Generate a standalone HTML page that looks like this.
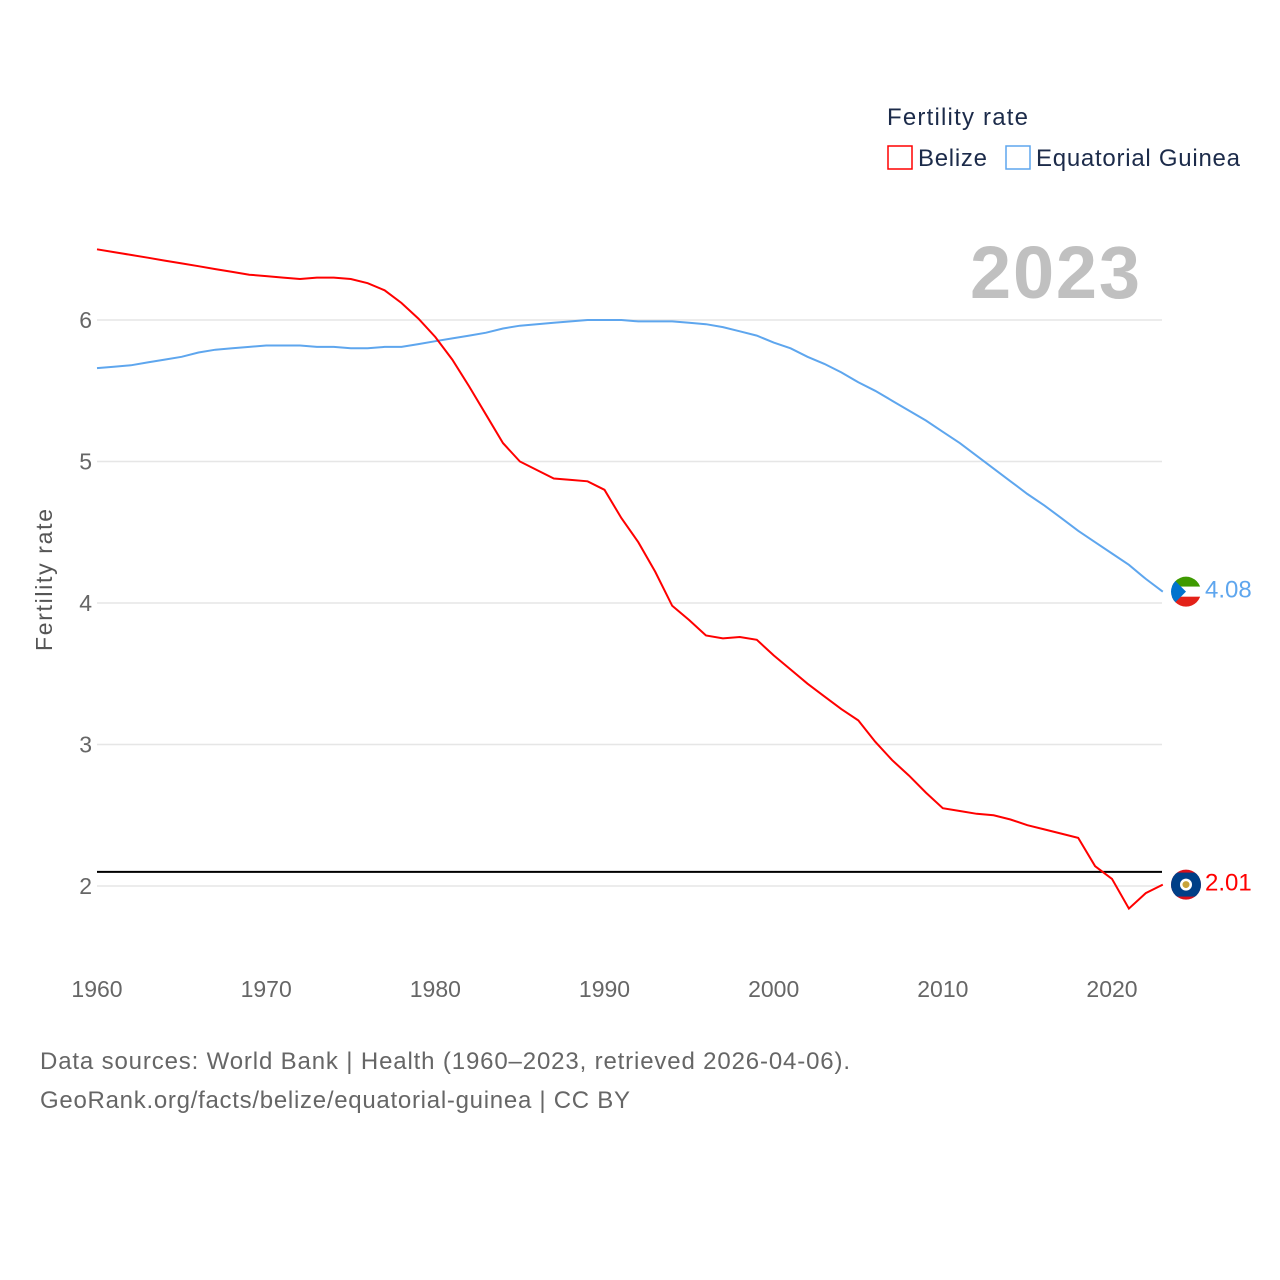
<!DOCTYPE html>
<html><head><meta charset="utf-8"><style>
body{margin:0;background:#fff;}
svg{display:block;font-family:"Liberation Sans",sans-serif;}
</style></head><body>
<svg id="chart" width="1280" height="1280" viewBox="0 0 1280 1280">
<g id="grid"></g>
<g id="yticks"></g>
<g id="xticks"></g>
<text x="52" y="580" transform="rotate(-90 52 580)" text-anchor="middle" font-size="23" fill="#555" textLength="142">Fertility rate</text>
<text x="970" y="298" font-size="74" font-weight="bold" fill="#c0c0c0" textLength="170">2023</text>
<g>
<text x="887" y="125" font-size="24" fill="#1c2b4a" textLength="141">Fertility rate</text>
<g><rect x="888" y="146" width="24" height="23" fill="none" stroke="#f00" stroke-width="1.5"/><text x="918" y="166" font-size="24" fill="#1c2b4a" textLength="69">Belize</text></g>
<g><rect x="1006" y="146" width="24" height="23" fill="none" stroke="#5ea6ee" stroke-width="1.5"/><text x="1036" y="166" font-size="24" fill="#1c2b4a" textLength="204">Equatorial Guinea</text></g>
</g>
<g id="series"></g>
<text x="40" y="1069" font-size="24" fill="#666" textLength="810">Data sources: World Bank | Health (1960–2023, retrieved 2026-04-06).</text>
<text x="40" y="1108" font-size="24" fill="#666" textLength="590">GeoRank.org/facts/belize/equatorial-guinea | CC BY</text>
</svg>
<script>
const years=[];for(let y=1960;y<=2023;y++)years.push(y);
const belize=[6.50,6.48,6.46,6.44,6.42,6.40,6.38,6.36,6.34,6.32,6.31,6.30,6.29,6.30,6.30,6.29,6.26,6.21,6.12,6.01,5.88,5.72,5.53,5.33,5.13,5.00,4.94,4.88,4.87,4.86,4.80,4.60,4.43,4.22,3.98,3.88,3.77,3.75,3.76,3.74,3.63,3.53,3.43,3.34,3.25,3.17,3.02,2.89,2.78,2.66,2.55,2.53,2.51,2.50,2.47,2.43,2.40,2.37,2.34,2.14,2.05,1.84,1.95,2.01];
const eqGuinea=[5.66,5.67,5.68,5.70,5.72,5.74,5.77,5.79,5.80,5.81,5.82,5.82,5.82,5.81,5.81,5.80,5.80,5.81,5.81,5.83,5.85,5.87,5.89,5.91,5.94,5.96,5.97,5.98,5.99,6.00,6.00,6.00,5.99,5.99,5.99,5.98,5.97,5.95,5.92,5.89,5.84,5.80,5.74,5.69,5.63,5.56,5.50,5.43,5.36,5.29,5.21,5.13,5.04,4.95,4.86,4.77,4.69,4.60,4.51,4.43,4.35,4.27,4.17,4.08];
const yTicks=[2,3,4,5,6];
const xTicks=[1960,1970,1980,1990,2000,2010,2020];
const replacement=2.1;
const NS="http://www.w3.org/2000/svg";
const xs=y=>97+(y-1960)*(1112-97)/60;
const ys=v=>886-(v-2)*141.5;
function mk(t,a,p){const e=document.createElementNS(NS,t);for(const k in a)e.setAttribute(k,a[k]);p.appendChild(e);return e;}
const grid=document.getElementById('grid'),yt=document.getElementById('yticks'),xt=document.getElementById('xticks'),ser=document.getElementById('series');
yTicks.forEach(v=>{
 const l=mk('line',{x1:97,x2:1162,y1:ys(v),y2:ys(v),stroke:'#e6e6e6','stroke-width':1.5},grid);
 
 
 const t=mk('text',{x:92,y:ys(v)+8,'text-anchor':'end','font-size':23,fill:'#666'},yt);t.textContent=v;
 
 
});
xTicks.forEach(v=>{
 const t=mk('text',{x:xs(v),y:997,'text-anchor':'middle','font-size':23,fill:'#666'},xt);t.textContent=v;
 
 
});
const rl=mk('line',{x1:97,x2:1162,y1:ys(replacement),y2:ys(replacement),stroke:'#000','stroke-width':2},ser);


function flag(name,cy){
 const g=mk('g',{},ser);
 
 
 const cpId='cp-'+name;
 const cp=mk('clipPath',{id:cpId},g);mk('circle',{cx:1186,cy:cy,r:15},cp);
 const gg=mk('g',{'clip-path':'url(#'+cpId+')'},g);
 if(name==='belize'){
  mk('rect',{x:1170,y:cy-16,width:32,height:32,fill:'#d90f19'},gg);
  mk('rect',{x:1170,y:cy-12,width:32,height:24,fill:'#003f87'},gg);
  mk('circle',{cx:1186,cy:cy,r:6,fill:'#fff'},gg);
  mk('circle',{cx:1186,cy:cy,r:3.5,fill:'#c8a33a'},gg);
 } else {
  mk('rect',{x:1170,y:cy-16,width:32,height:11,fill:'#3e9a00'},gg);
  mk('rect',{x:1170,y:cy-5,width:32,height:10,fill:'#fff'},gg);
  mk('rect',{x:1170,y:cy+5,width:32,height:11,fill:'#e32118'},gg);
  mk('polygon',{points:(1170)+','+(cy-16)+' '+(1186)+','+cy+' '+(1170)+','+(cy+16),fill:'#0073ce'},gg);
 }
}
function drawLine(vals,color,name){
 const d=vals.map((v,i)=>(i?'L':'M')+xs(years[i]).toFixed(1)+','+ys(v).toFixed(1)).join('');
 const p=mk('path',{d:d,fill:'none',stroke:color,'stroke-width':2},ser);
 
 
 const last=vals[vals.length-1];
 const cy=ys(last);
 flag(name,cy);
 const t=mk('text',{x:1205,y:cy+6,'font-size':24,fill:color},ser);t.textContent=last.toFixed(2);
 
 
}
drawLine(eqGuinea,'#5ea6ee','equatorial-guinea');
drawLine(belize,'#f00','belize');
</script>
</body></html>
